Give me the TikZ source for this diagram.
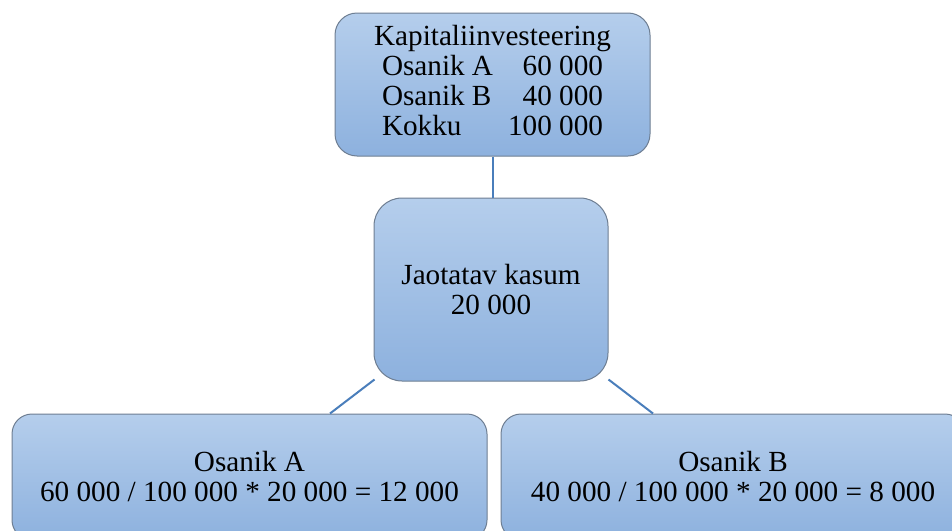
\documentclass[tikz,border=0pt]{standalone}
\usepackage{fontspec}
\setmainfont{LiberationSerif}[Extension=.ttf, UprightFont=*-Regular, BoldFont=*-Bold]
\usetikzlibrary{calc}

\definecolor{boxtop}{RGB}{181,206,236}
\definecolor{boxbot}{RGB}{141,177,222}
\definecolor{boxline}{RGB}{110,126,146}
\definecolor{linkblue}{RGB}{74,126,187}

\tikzset{
	blok/.style={draw=boxline, line width=0.5pt, top color=boxtop, bottom color=boxbot, inner sep=0pt, align=center, font=\rmfamily\fontsize{14.6}{15}\selectfont},
	link/.style={draw=linkblue, line width=1pt}
}

\begin{document}
\begin{tikzpicture}[x=0.5pt, y=-0.5pt]
			%%%%% START %%%%%
			
			\clip (0, 0) rectangle (952, 530);
			
			\node[blok, rounded corners=11pt, minimum width=157.5pt, minimum height=71.5pt] (kapital) at (492.5, 84.5) {Kapitaliinvesteering\\\begin{tabular}[t]{@{}l@{\hspace{7.5pt}}r@{}}Osanik A & 60 000\\Osanik B & 40 000\\Kokku & 100 000\end{tabular}};
			
			\node[blok, rounded corners=14pt, minimum width=117pt, minimum height=91.5pt] (jaotus) at (491, 289.5) {Jaotatav kasum\\20 000};
			
			\node[blok, rounded corners=10pt, minimum width=237.5pt, minimum height=63pt] (osanikA) at (249.5, 477) {Osanik A\\60 000 / 100 000 * 20 000 = 12 000};
			\node[blok, rounded corners=10pt, minimum width=232pt, minimum height=63pt] (osanikB) at (733, 477) {Osanik B\\40 000 / 100 000 * 20 000 = 8 000};
			
			\draw[link] (kapital.south) -- (kapital.south |- jaotus.north);
			\draw[link] ($(jaotus.south west)+(1, -2)$) -- ($(osanikA.north)+(80.5, 0)$);
			\draw[link] ($(jaotus.south east)+(0, -2)$) -- ($(osanikB.north)+(-80, 0)$);
			
			%%%%% END %%%%%
\end{tikzpicture}
\end{document}
